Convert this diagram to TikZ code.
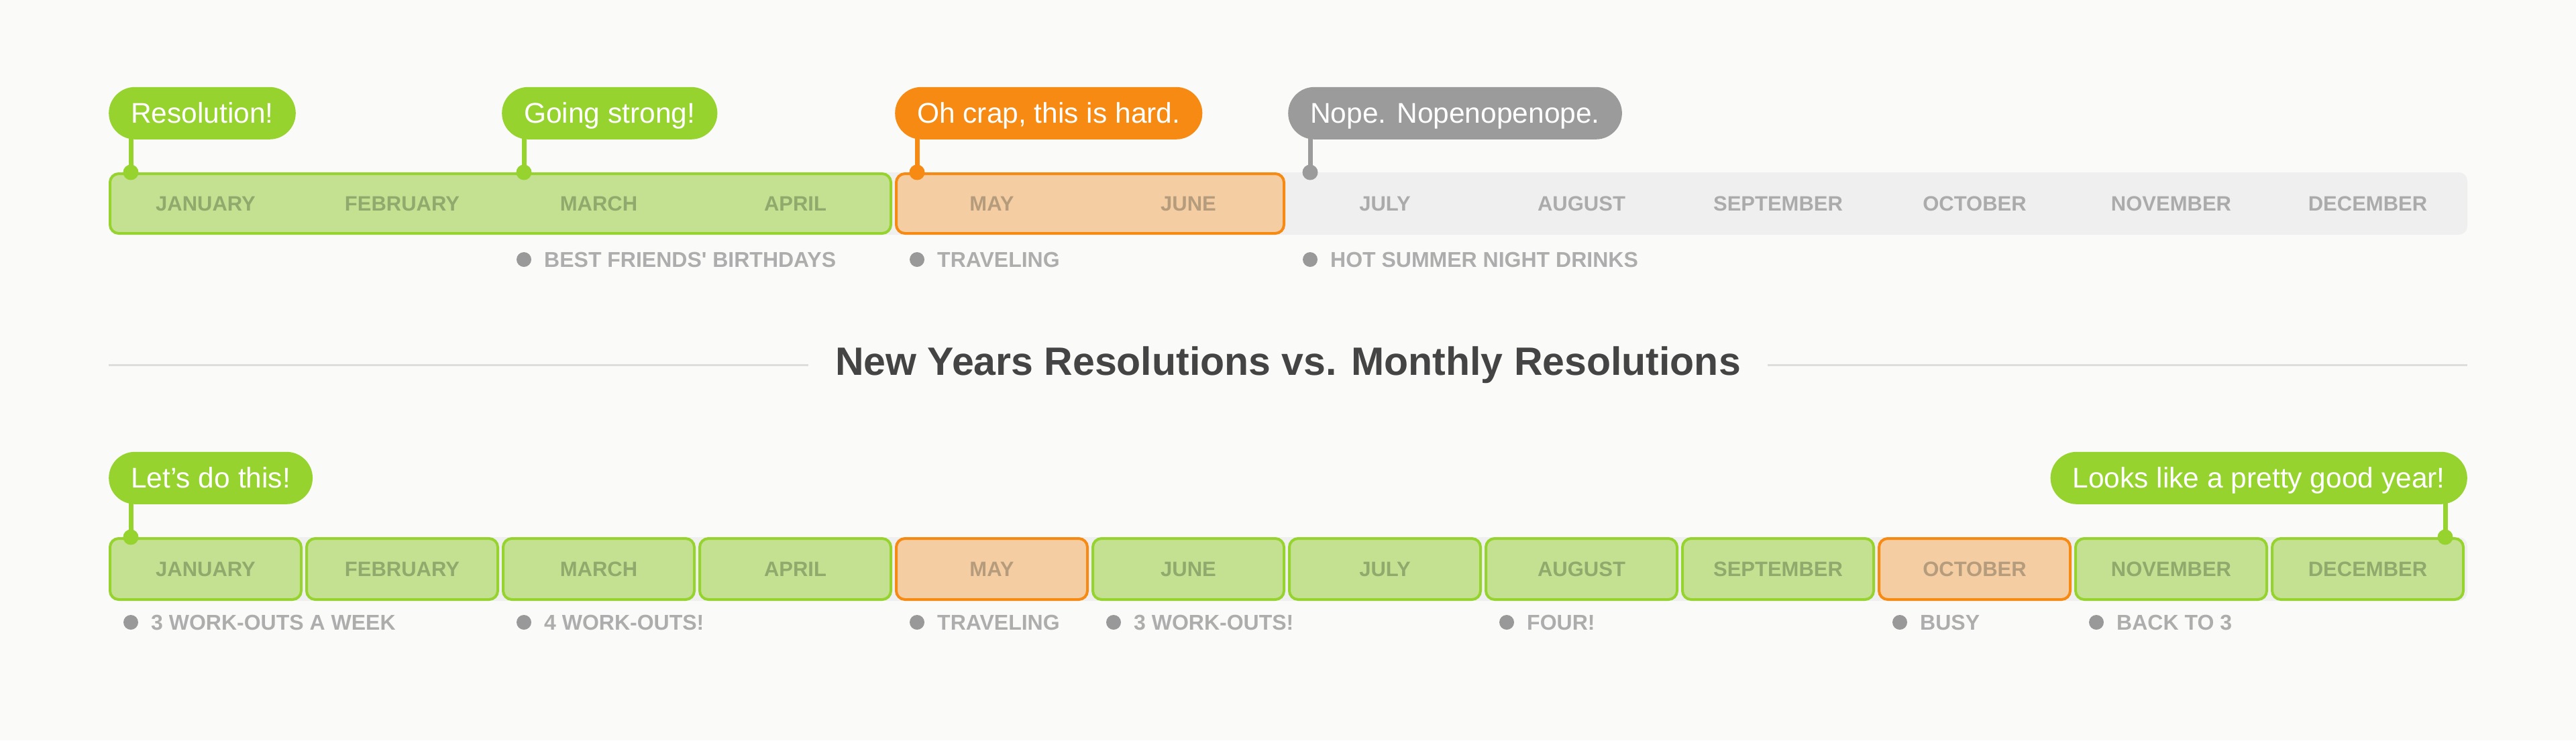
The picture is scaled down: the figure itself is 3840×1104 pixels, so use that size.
\documentclass[tikz,border=0pt]{standalone}
\usepackage{fontspec}
\setmainfont{Liberation Sans}
\newfontfamily\medfont{Liberation Sans}
\definecolor{bg}{HTML}{FAFAF8}
\definecolor{cGreen}{HTML}{97D32F}
\definecolor{cGreenL}{HTML}{C4E192}
\definecolor{cOrange}{HTML}{F68A12}
\definecolor{cOrangeL}{HTML}{F4CDA2}
\definecolor{cGrayC}{HTML}{9B9B9B}
\definecolor{cBar}{HTML}{EFEFEF}
\definecolor{cTxtG}{HTML}{90A96C}
\definecolor{cTxtO}{HTML}{B59C7C}
\definecolor{cTxtGr}{HTML}{ABABAB}
\definecolor{cDot}{HTML}{999999}
\definecolor{cNote}{HTML}{ADADAD}
\definecolor{cTitle}{HTML}{444444}
\definecolor{cRule}{HTML}{DDDDDD}
\begin{document}
\begin{tikzpicture}[x=1pt,y=-1pt,
  callout/.style={rounded corners=39pt, minimum height=78pt, inner xsep=33pt, inner ysep=0pt,
    text height=30pt, text depth=0pt, text=white, font=\fontsize{42.5}{50}\selectfont},
  greenc/.style={callout, fill=cGreen},
  orangec/.style={callout, fill=cOrange},
  grayc/.style={callout, fill=cGrayC},
  pinline/.style={line width=7pt},
  month/.style={inner sep=0pt, text height=23pt, text depth=0pt, font=\medfont\bfseries\fontsize{31}{38}\selectfont},
  note/.style={inner sep=0pt, anchor=west, text height=23pt, text depth=0pt, text=cNote, font=\medfont\bfseries\fontsize{32}{38}\selectfont},
  gbox/.style={draw=cGreen, fill=cGreenL, line width=4pt, rounded corners=13pt},
  obox/.style={draw=cOrange, fill=cOrangeL, line width=4pt, rounded corners=13pt},
  bar/.style={fill=cBar, rounded corners=13pt}
]
\useasboundingbox[fill=bg] (0,0) rectangle (3840,1104);

% ---------- top timeline ----------
\path[bar] (162,257) rectangle (3678,350);
\draw[gbox] (164,259) rectangle (1328,348);
\draw[obox] (1336,259) rectangle (1914,348);
\foreach \m [count=\i from 0] in {JANUARY,FEBRUARY,MARCH,APRIL,MAY,JUNE,JULY,AUGUST,SEPTEMBER,OCTOBER,NOVEMBER,DECEMBER}{
  \pgfmathsetmacro{\cx}{162+293*\i+144.5}
  \ifnum\i<4 \def\tc{cTxtG}\else\ifnum\i<6 \def\tc{cTxtO}\else\def\tc{cTxtGr}\fi\fi
  \node[month, text=\tc] (mT\i) at (\cx,303) {\m};
}
% callouts
\coordinate (p1) at (195,257);
\coordinate (p2) at (781,257);
\coordinate (p3) at (1367,257);
\coordinate (p4) at (1953,257);
\node[greenc, anchor=south west] (c1) at (162,208) {Resolution!};
\node[greenc, anchor=south west] (c2) at (748,208) {Going strong!};
\node[orangec, anchor=south west] (c3) at (1334,208) {Oh crap, this is hard.};
\node[grayc, anchor=south west] (c4) at (1920,208) {Nope. Nopenopenope.};
\foreach \p/\c/\col in {p1/c1/cGreen,p2/c2/cGreen,p3/c3/cOrange,p4/c4/cGrayC}{
  \draw[pinline, draw=\col] ([yshift=2pt]\p |- \c.south) -- (\p);
  \fill[\col] (\p) circle[radius=11.5pt];
}
% notes
\foreach \x/\t [count=\j] in {781/{BEST FRIENDS' BIRTHDAYS},1367/TRAVELING,1953/{HOT SUMMER NIGHT DRINKS}}{
  \fill[cDot] (\x,387) circle[radius=11pt];
  \node[note] (nT\j) at (\x+30,387) {\t};
}

% ---------- title ----------
\node[inner xsep=40pt, text=cTitle, font=\bfseries\fontsize{59}{66}\selectfont] (title) at (1920,544) {New Years Resolutions vs. Monthly Resolutions};
\coordinate (rl) at (162,544);
\coordinate (rr) at (3678,544);
\draw[cRule, line width=3pt] (rl) -- (title.west);
\draw[cRule, line width=3pt] (title.east) -- (rr);

% ---------- bottom timeline ----------
\path[bar] (162,801) rectangle (3678,896);
\foreach \m [count=\i from 0] in {JANUARY,FEBRUARY,MARCH,APRIL,MAY,JUNE,JULY,AUGUST,SEPTEMBER,OCTOBER,NOVEMBER,DECEMBER}{
  \pgfmathsetmacro{\xa}{162+293*\i+2}
  \pgfmathsetmacro{\xb}{162+293*\i+287}
  \pgfmathsetmacro{\cx}{162+293*\i+144.5}
  \ifnum\i=4 \def\bs{obox}\def\tc{cTxtO}\else\ifnum\i=9 \def\bs{obox}\def\tc{cTxtO}\else\def\bs{gbox}\def\tc{cTxtG}\fi\fi
  \draw[\bs] (\xa,803) rectangle (\xb,894);
  \node[month, text=\tc] (mB\i) at (\cx,848) {\m};
}
\coordinate (p5) at (195,801);
\coordinate (p6) at (3645,801);
\node[greenc, anchor=south west] (c5) at (162,752) {Let's do this!};
\node[greenc, anchor=south east] (c6) at (3678,752) {Looks like a pretty good year!};
\foreach \p/\c in {p5/c5,p6/c6}{
  \draw[pinline, draw=cGreen] ([yshift=2pt]\p |- \c.south) -- (\p);
  \fill[cGreen] (\p) circle[radius=11.5pt];
}
\foreach \k/\t [count=\j] in {0/{3 WORK-OUTS A WEEK},2/{4 WORK-OUTS!},4/TRAVELING,5/{3 WORK-OUTS!},7/FOUR!,9/BUSY,10/{BACK TO 3}}{
  \pgfmathsetmacro{\dx}{162+293*\k+33}
  \fill[cDot] (\dx,928) circle[radius=11pt];
  \node[note] (nB\j) at (\dx+30,928) {\t};
}
\end{tikzpicture}
\end{document}
